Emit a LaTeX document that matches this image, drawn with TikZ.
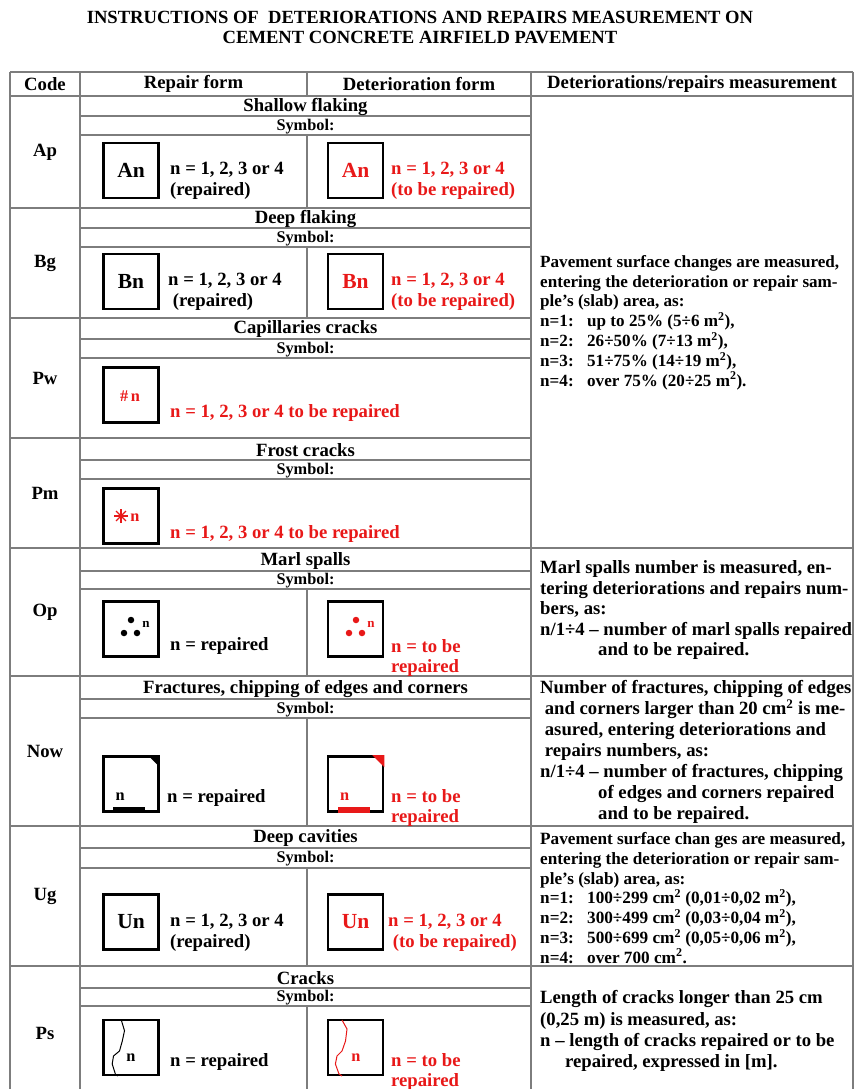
\documentclass[tikz,border=0pt]{standalone}
\usepackage{fontspec}
\setmainfont{Liberation Serif}
\definecolor{dred}{RGB}{232,24,24}
\definecolor{gridc}{RGB}{125,125,125}
\begin{document}
\begin{tikzpicture}[x=1pt,y=-1pt,
  grid/.style={draw=gridc,line width=1.3pt},
  symbox/.style={draw=black,line width=2.6pt,minimum width=55pt,minimum height=55pt,inner sep=0pt},
  bf/.style={font=\bfseries\fontsize{18.7}{20.5}\selectfont,inner sep=0pt},
  sbf/.style={font=\bfseries\fontsize{17.1}{19.8}\selectfont,inner sep=0pt},
  big/.style={font=\bfseries\fontsize{21.5}{24}\selectfont,inner sep=0pt},
  symlab/.style={font=\bfseries\fontsize{16.3}{18}\selectfont,inner sep=0pt},
  small/.style={font=\bfseries\fontsize{13}{14}\selectfont,inner sep=0pt},
  lt/.style={bf,anchor=west,align=left},
  rt/.style={lt,text=dred},
  mcol/.style={anchor=west,align=left},
  dot/.style={circle,fill,inner sep=0pt,minimum size=6.5pt},
]
\path[use as bounding box] (0,0) rectangle (854,1089);
\clip (0,0) rectangle (854,1089);

% title
\node[bf,align=center,font=\bfseries\fontsize{18.6}{20}\selectfont] (title) at (420,27)
  {INSTRUCTIONS OF\ \ DETERIORATIONS AND REPAIRS MEASUREMENT ON\\CEMENT CONCRETE AIRFIELD PAVEMENT};

% outer grid
\draw[grid] (10,72) -- (853,72);
\draw[grid] (10,96) -- (853,96);
\draw[grid] (10,72) -- (10,1089);
\draw[grid] (80,72) -- (80,1089);
\draw[grid] (531,72) -- (531,1089);
\draw[grid] (853,72) -- (853,1089);
\draw[grid] (307,72) -- (307,96);
\foreach \yy in {548,676,826,966} \draw[grid] (531,\yy) -- (853,\yy);

% header
\node[bf] (hcode) at (45,84) {Code};
\node[bf] (hrep) at (193.5,84) {Repair form};
\node[bf] (hdet) at (419,84) {Deterioration form};
\node[bf] (hmeas) at (692,84) {Deteriorations/repairs measurement};

% blocks
\foreach \top/\tb/\sb/\bot/\code/\ttl/\mid in {
  96/116/135/208/Ap/{Shallow flaking}/1,
  208/228/247/318/Bg/{Deep flaking}/1,
  318/339/358/438/Pw/{Capillaries cracks}/0,
  438/460/479/548/Pm/{Frost cracks}/0,
  548/571/589/676/Op/{Marl spalls}/1,
  676/699/718/826/Now/{Fractures, chipping of edges and corners}/1,
  826/848/868/966/Ug/{Deep cavities}/1,
  966/988/1006/1100/Ps/{Cracks}/1}{
  \draw[grid] (10,\bot) -- (531,\bot);
  \draw[grid] (80,\tb) -- (531,\tb);
  \draw[grid] (80,\sb) -- (531,\sb);
  \ifnum\mid=1 \draw[grid] (307,\sb) -- (307,\bot); \fi
  \node[bf] (code-\code) at (45,{(\top+\bot)/2}) {\code};
  \node[bf] (ttl-\code) at (305.5,{(\top+\tb)/2+1}) {\ttl};
  \node[symlab] (sym-\code) at (305.5,{(\tb+\sb)/2+1}) {Symbol:};
}

% Ap
\node[symbox] (apr) at (131,170.5) {};
\node[big] (aprl) at (apr) {An};
\node[symbox] (apd) at (355.5,170.5) {};
\node[big,text=dred] (apdl) at (apd) {An};
\node[lt] (apt1) at (170,181) {n = 1, 2, 3 or 4\\(repaired)};
\node[rt] (apt2) at (391,181) {n = 1, 2, 3 or 4\\(to be repaired)};

% Bg
\node[symbox] (bgr) at (131,281.5) {};
\node[big] (bgrl) at (bgr) {Bn};
\node[symbox] (bgd) at (355.5,281.5) {};
\node[big,text=dred] (bgdl) at (bgd) {Bn};
\node[lt] (bgt1) at (168,292) {n = 1, 2, 3 or 4\\\ (repaired)};
\node[rt] (bgt2) at (391,292) {n = 1, 2, 3 or 4\\(to be repaired)};

% Pw
\node[symbox] (pwr) at (131,395) {};
\node[symlab,text=dred] (pwrl) at (130,396) {\#\,n};
\node[rt] (pwt) at (170,413) {n = 1, 2, 3 or 4 to be repaired};

% Pm
\node[symbox] (pmr) at (131,516) {};
\coordinate (star) at (121,516);
\foreach \a in {0,45,90,135} \draw[dred,line width=1.1pt] (star) ++(\a:7) -- ++(\a+180:14);
\node[symlab,text=dred] (pmrl) at (135,518) {n};
\node[rt] (pmt) at (170,534) {n = 1, 2, 3 or 4 to be repaired};

% Op
\node[symbox] (opr) at (131,629) {};
\node[dot] (opr1) at (131,620) {};
\node[dot] (opr2) at (124,633) {};
\node[dot] (opr3) at (137,633) {};
\node[small] (oprl) at (146,624) {n};
\node[symbox] (opd) at (355.5,629) {};
\node[dot,fill=dred] (opd1) at (356,620) {};
\node[dot,fill=dred] (opd2) at (349,633) {};
\node[dot,fill=dred] (opd3) at (362,633) {};
\node[small,text=dred] (opdl) at (371,624) {n};
\node[lt] (opt1) at (170,646) {n = repaired};
\node[rt] (opt2) at (391,658) {n = to be\\repaired};

% Now
\node[symbox] (nwr) at (131,784) {};
\fill ([xshift=-12pt]nwr.north east) -- (nwr.north east) -- ([yshift=-12pt]nwr.north east) -- cycle;
\fill ([xshift=11pt]nwr.south west) rectangle ([xshift=43pt,yshift=6pt]nwr.south west);
\node[symlab] (nwrl) at ([xshift=18pt,yshift=16pt]nwr.south west) {n};
\node[symbox] (nwd) at (355.5,784) {};
\fill[dred] ([xshift=-12pt]nwd.north east) -- (nwd.north east) -- ([yshift=-12pt]nwd.north east) -- cycle;
\fill[dred] ([xshift=11pt]nwd.south west) rectangle ([xshift=43pt,yshift=6pt]nwd.south west);
\node[symlab,text=dred] (nwdl) at ([xshift=18pt,yshift=16pt]nwd.south west) {n};
\node[lt] (nwt1) at (167,798) {n = repaired};
\node[rt] (nwt2) at (391,808) {n = to be\\repaired};

% Ug
\node[symbox] (ugr) at (131,922) {};
\node[big] (ugrl) at (ugr) {Un};
\node[symbox] (ugd) at (355.5,922) {};
\node[big,text=dred] (ugdl) at (ugd) {Un};
\node[lt] (ugt1) at (170,933) {n = 1, 2, 3 or 4\\(repaired)};
\node[rt] (ugt2) at (388,933) {n = 1, 2, 3 or 4\\\ (to be repaired)};

% Ps
\node[symbox] (psr) at (131,1047.5) {};
\begin{scope}[shift={(103.5,1020)}]
\draw[black,line width=1pt] (17.8,0) -- (21,10.7) -- (18.8,21) -- (16,31) -- (10,36) -- (8.7,44) -- (12,54.4) -- (14.4,56);
\end{scope}
\node[symlab] (psrl) at (131,1058) {n};
\node[symbox] (psd) at (355.5,1047.5) {};
\begin{scope}[shift={(328,1020)}]
\draw[dred,line width=1pt] (14,0) -- (19,9) -- (17.5,21) -- (14,31) -- (9,36) -- (7.4,44) -- (11,54) -- (14,56);
\end{scope}
\node[symlab,text=dred] (psdl) at (356,1058) {n};
\node[lt] (pst1) at (170,1062) {n = repaired};
\node[rt] (pst2) at (391,1072) {n = to be\\repaired};

% right column texts
\node[sbf,mcol] (m1) at (540,322.5) {Pavement surface changes are measured,\\
entering the deterioration or repair sam-\\
ple’s (slab) area, as:\\
\makebox[47pt][l]{n=1:}up to 25\% (5÷6 m\textsuperscript{2}),\\
\makebox[47pt][l]{n=2:}26÷50\% (7÷13 m\textsuperscript{2}),\\
\makebox[47pt][l]{n=3:}51÷75\% (14÷19 m\textsuperscript{2}),\\
\makebox[47pt][l]{n=4:}over 75\% (20÷25 m\textsuperscript{2}).};

\node[bf,mcol] (m2) at (540,610) {Marl spalls number is measured, en-\\
tering deteriorations and repairs num-\\
bers, as:\\
n/1÷4 – number of marl spalls repaired\\
\hspace*{58pt}and to be repaired.};

\node[bf,mcol,font=\bfseries\fontsize{18.7}{21}\selectfont] (m3) at (540,752) {Number of fractures, chipping of edges\\
\ and corners larger than 20 cm\textsuperscript{2} is me-\\
\ asured, entering deteriorations and\\
\ repairs numbers, as:\\
n/1÷4 – number of fractures, chipping\\
\hspace*{58pt}of edges and corners repaired\\
\hspace*{58pt}and to be repaired.};

\node[sbf,mcol,font=\bfseries\fontsize{17.2}{19.7}\selectfont] (m4) at (540,898) {Pavement surface chan ges are measured,\\
entering the deterioration or repair sam-\\
ple’s (slab) area, as:\\
\makebox[47pt][l]{n=1:}100÷299 cm\textsuperscript{2} (0,01÷0,02 m\textsuperscript{2}),\\
\makebox[47pt][l]{n=2:}300÷499 cm\textsuperscript{2} (0,03÷0,04 m\textsuperscript{2}),\\
\makebox[47pt][l]{n=3:}500÷699 cm\textsuperscript{2} (0,05÷0,06 m\textsuperscript{2}),\\
\makebox[47pt][l]{n=4:}over 700 cm\textsuperscript{2}.};

\node[bf,mcol,font=\bfseries\fontsize{18.7}{21.2}\selectfont] (m5) at (540,1031) {Length of cracks longer than 25 cm\\
(0,25 m) is measured, as:\\
n – length of cracks repaired or to be\\
\hspace*{25pt}repaired, expressed in [m].};
\end{tikzpicture}
\end{document}
